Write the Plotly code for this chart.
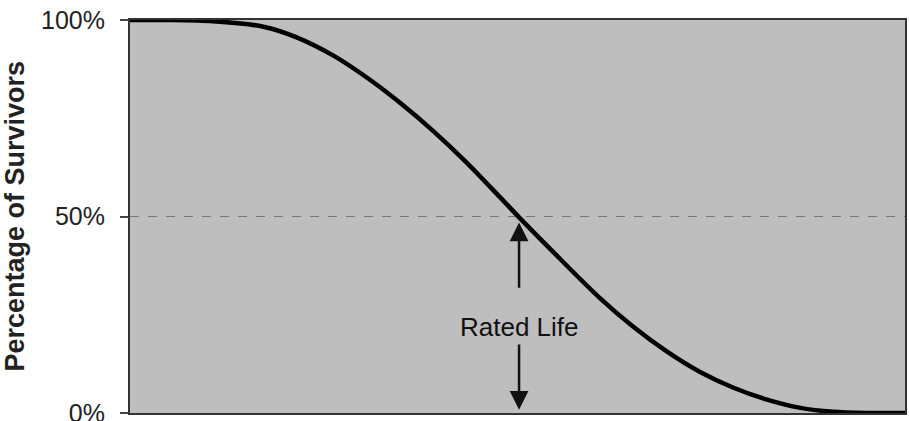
import plotly.graph_objects as go

# Curve (x: percent of plot width, y: percent survivors)
life_x = [0, 5, 10.7, 17.2, 21.5, 26.2, 30.6, 34.8, 39.1, 43.5, 47.7, 50.3, 55.6,
          60.6, 64.9, 69.3, 73.5, 77.8, 82.2, 86.5, 90.7, 95, 100]
survivors = [100, 100, 99.7, 98.3, 95.6, 91.0, 85.3, 79.0, 71.8, 63.6, 55.0, 49.6, 39.0,
             29.3, 22.0, 15.6, 10.5, 6.5, 3.4, 1.3, 0.3, 0, 0]

y_ticks = [0, 50, 100]
y_tick_text = ["0%", "50%", "100%"]
rated_x = 50.2
label_text = "Rated Life"
label_y = 22.0
axis_title = "Percentage of Survivors"

FONT = "Liberation Sans, Arial, sans-serif"

fig = go.Figure()
fig.add_trace(go.Scatter(
    x=life_x, y=survivors, mode="lines",
    line=dict(color="black", width=4.5, shape="spline", smoothing=0.8),
    hoverinfo="skip", showlegend=False))

# Rated Life label and arrows
fig.add_annotation(x=rated_x, y=label_y, text=label_text, showarrow=False,
                   font=dict(family=FONT, size=26, color="#111"))
fig.add_annotation(x=rated_x, y=48.5, ax=rated_x, ay=31.5, xref="x", yref="y", axref="x", ayref="y",
                   text="", showarrow=True, arrowhead=2, arrowsize=1.5, arrowwidth=2.5, arrowcolor="#111")
fig.add_annotation(x=rated_x, y=0.8, ax=rated_x, ay=17.8, xref="x", yref="y", axref="x", ayref="y",
                   text="", showarrow=True, arrowhead=2, arrowsize=1.5, arrowwidth=2.5, arrowcolor="#111")

# Y axis title (placed at the far left edge as in the reference)
fig.add_annotation(xref="paper", yref="paper", x=(14 - 130) / 775, y=0.5,
                   xanchor="center", yanchor="middle", textangle=-90, showarrow=False,
                   text="<b>" + axis_title + "</b>",
                   font=dict(family=FONT, size=27, color="#222"))

fig.update_layout(
    width=909, height=421,
    margin=dict(l=130, r=4, t=20, b=8, autoexpand=False),
    paper_bgcolor="white", plot_bgcolor="#bebebe",
    font=dict(family=FONT, color="#222"),
    showlegend=False,
)
fig.update_xaxes(range=[0, 100], showticklabels=False, showgrid=False, zeroline=False,
                 showline=True, mirror=True, linecolor="#333", linewidth=2, ticks="",
                 automargin=False)
fig.update_yaxes(range=[0, 100], tickvals=y_ticks, ticktext=y_tick_text,
                 tickfont=dict(family=FONT, size=25, color="#222"),
                 ticks="outside", ticklen=8, tickcolor="#444", tickwidth=1.5,
                 ticklabelstandoff=10, ticklabeloverflow="allow", automargin=False,
                 showgrid=True, gridcolor="#777", griddash="dash", gridwidth=1,
                 zeroline=False, showline=True, mirror=True, linecolor="#333", linewidth=2)

fig.write_html("out.html")
